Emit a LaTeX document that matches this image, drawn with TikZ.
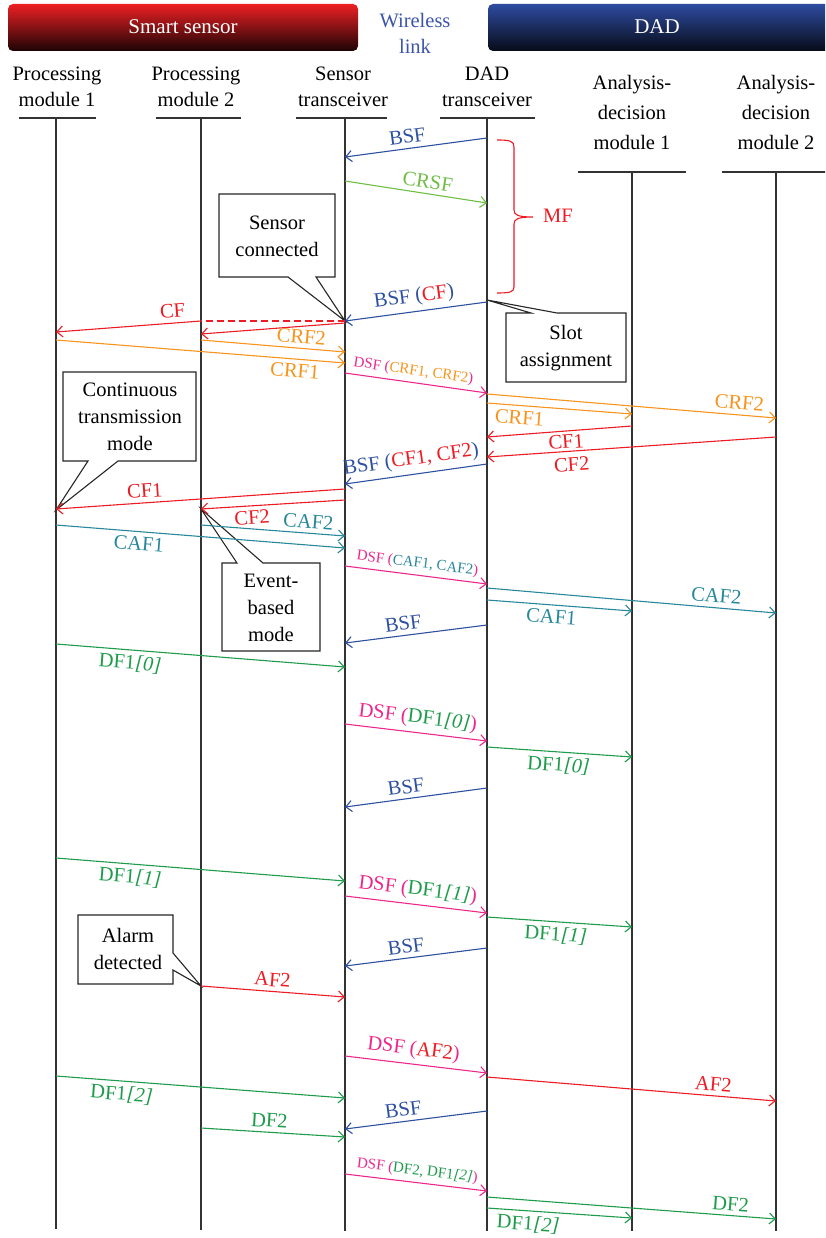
\documentclass[tikz,border=0pt]{standalone}
\usepackage{fontspec}
\setmainfont{Liberation Serif}
\usetikzlibrary{arrows.meta}

\definecolor{cblue}{RGB}{46,80,160}
\definecolor{clime}{RGB}{110,190,70}
\definecolor{cred}{RGB}{237,28,36}
\definecolor{corange}{RGB}{247,148,29}
\definecolor{cpink}{RGB}{236,40,140}
\definecolor{cteal}{RGB}{40,135,155}
\definecolor{cgreen}{RGB}{30,155,75}
\definecolor{linkblue}{RGB}{60,85,170}
\definecolor{barred}{RGB}{237,32,36}
\definecolor{barblue}{RGB}{46,75,160}

\begin{document}
\begin{tikzpicture}[x=1pt,y=-1pt,
  every node/.style={inner sep=0pt},
  head/.style={align=center,font=\fontsize{20.5}{26}\selectfont},
  headtall/.style={align=center,font=\fontsize{20.5}{30}\selectfont},
  life/.style={line width=1.2pt,draw=black!80},
  msg/.style={line width=1.1pt,-{Straight Barb[length=6pt,width=11pt,line width=1.1pt]}},
  lbl/.style={sloped,font=\fontsize{20.5}{22}\selectfont,inner sep=4.5pt},
  slbl/.style={sloped,font=\fontsize{15}{17}\selectfont,inner sep=4pt},
  callout/.style={fill=white,draw=black!85,line width=1.1pt,line join=miter},
  note/.style={align=center,font=\fontsize{20.5}{27}\selectfont},
]
\useasboundingbox (0,0) rectangle (825,1238);
\clip (0,0) rectangle (825,1238);

% ---- group bars ----
\shade[rounded corners=5pt,top color=barred,middle color=barred!88!black,bottom color=barred!12!black]
  (8,4) rectangle (358,51);
\shade[rounded corners=5pt,top color=barblue,middle color=barblue!85!black,bottom color=barblue!15!black]
  (488,4) rectangle (845,51);
\node[text=white,font=\fontsize{21}{22}\selectfont] (ss) at (183,27) {Smart sensor};
\node[text=white,font=\fontsize{21}{22}\selectfont] (dad) at (657,27) {DAD};
\node[head,text=linkblue] (wl) at (415,33) {Wireless\\link};

% ---- lifeline heads ----
\node[head] (h1) at (57,87) {Processing\\module 1};
\node[head] (h2) at (196,87) {Processing\\module 2};
\node[head] (h3) at (343,87) {Sensor\\transceiver};
\node[head] (h4) at (487,87) {DAD\\transceiver};
\node[headtall] (h5) at (632,112) {Analysis-\\decision\\module 1};
\node[headtall] (h6) at (776,112) {Analysis-\\decision\\module 2};

\coordinate (p1) at (56,118);
\coordinate (p2) at (201,118);
\coordinate (st) at (345,118);
\coordinate (dt) at (487,118);
\coordinate (a1) at (632,172);
\coordinate (a2) at (776,172);

\draw[life] (19,118) -- (96,118);
\draw[life] (156,118) -- (241,118);
\draw[life] (296,118) -- (387,118);
\draw[life] (440,118) -- (535,118);
\draw[life] (578,172) -- (686,172);
\draw[life] (722,172) -- (830,172);

\draw[life] (p1) -- (p1 |- 0,1229);
\draw[life] (p2) -- (p2 |- 0,1230);
\draw[life] (st) -- (st |- 0,1231);
\draw[life] (dt) -- (dt |- 0,1231);
\draw[life] (a1) -- (a1 |- 0,1231);
\draw[life] (a2) -- (a2 |- 0,1231);

% ---- MF brace ----
\draw[cred,line width=1.1pt] (497,140) .. controls (510,140) and (514,141) .. (514,147)
  -- (514,210) .. controls (514,215) and (518,217) .. (533,217)
  .. controls (518,217) and (514,219) .. (514,224)
  -- (514,287) .. controls (514,292) and (510,293) .. (497,293);
\node[text=cred,font=\fontsize{20.5}{22}\selectfont] (mf) at (558,216) {MF};

% ---- callouts ----
\draw[callout] (219,194) -- (335,194) -- (335,277) -- (316,277) -- (st |- 0,321) -- (288,277) -- (219,277) -- cycle;
\node[note] (sc) at (277,236) {Sensor\\connected};

\draw[callout] (506,313) -- (531,313) -- (dt |- 0,300) -- (557,313) -- (626,313) -- (626,382) -- (506,382) -- cycle;
\node[note] (sa) at (566,348) {Slot\\assignment};

\draw[callout] (63,372) -- (196,372) -- (196,461) -- (118,461) -- (p1 |- 0,510) -- (88,461) -- (63,461) -- cycle;
\node[note] (ct) at (130,417) {Continuous\\transmission\\mode};

\draw[callout] (222,563) -- (237,563) -- (p2 |- 0,509) -- (263,563) -- (320,563) -- (320,651) -- (222,651) -- cycle;
\node[note] (eb) at (271,608) {Event-\\based\\mode};

\draw[callout] (78,915) -- (173,915) -- (173,953) -- (p2 |- 0,986) -- (173,970) -- (173,984) -- (78,984) -- cycle;
\node[note] (ad) at (128,949) {Alarm\\detected};

% ---- messages: connection phase ----
\draw[msg,cblue] (dt |- 0,138) -- node[lbl,pos=.55,above]{BSF} (st |- 0,157);
\draw[msg,clime] (st |- 0,181) -- node[lbl,pos=.57,above]{CRSF} (dt |- 0,203);
\draw[msg,cblue] (dt |- 0,302) -- node[lbl,pos=.5,above]{BSF (\textcolor{cred}{CF})} (st |- 0,321);

\coordinate (cfk) at (p2 |- 0,321);
\draw[cred,line width=1.1pt,dash pattern=on 7pt off 4pt] (st |- 0,321) -- (cfk);
\draw[msg,cred] (cfk) -- node[lbl,pos=.19,above]{CF} (p1 |- 0,332);
\draw[msg,cred] (st |- 0,323) -- (p2 |- 0,334);

\draw[msg,corange] (p2 |- 0,340) -- node[lbl,pos=.69,above]{CRF2} (st |- 0,352);
\draw[msg,corange] (p1 |- 0,340) -- node[lbl,pos=.83,below]{CRF1} (st |- 0,363);
\draw[msg,cpink] (st |- 0,373) -- node[slbl,pos=.47,above]{DSF (\textcolor{corange}{CRF1, CRF2})} (dt |- 0,393);
\draw[msg,corange] (dt |- 0,394) -- node[lbl,pos=.87,above]{CRF2} (a2 |- 0,418);
\draw[msg,corange] (dt |- 0,403) -- node[lbl,pos=.23,below]{CRF1} (a1 |- 0,414);
\draw[msg,cred] (a1 |- 0,426) -- node[lbl,pos=.46,below,inner sep=3.5pt]{CF1} (dt |- 0,437);
\draw[msg,cred] (a2 |- 0,437) -- node[lbl,pos=.71,below,inner sep=6pt]{CF2} (dt |- 0,457);
\draw[msg,cblue] (dt |- 0,464) -- node[lbl,pos=.52,above]{BSF (\textcolor{cred}{CF1, CF2})} (st |- 0,484);
\draw[msg,cred] (st |- 0,489) -- node[lbl,pos=.69,above]{CF1} (p1 |- 0,509);
\draw[msg,cred] (st |- 0,500) -- node[lbl,pos=.65,below]{CF2} (p2 |- 0,509);

% ---- configuration acknowledgements ----
\draw[msg,cteal] (p2 |- 0,525) -- node[lbl,pos=.74,above]{CAF2} (st |- 0,536);
\draw[msg,cteal] (p1 |- 0,525) -- node[lbl,pos=.29,below]{CAF1} (st |- 0,548);
\draw[msg,cpink] (st |- 0,566) -- node[slbl,pos=.5,above]{DSF (\textcolor{cteal}{CAF1, CAF2})} (dt |- 0,584);
\draw[msg,cteal] (dt |- 0,588) -- node[lbl,pos=.79,above]{CAF2} (a2 |- 0,613);
\draw[msg,cteal] (dt |- 0,600) -- node[lbl,pos=.45,below]{CAF1} (a1 |- 0,611);
\draw[msg,cblue] (dt |- 0,625) -- node[lbl,pos=.58,above]{BSF} (st |- 0,643);

% ---- data phase ----
\draw[msg,cgreen] (p1 |- 0,644) -- node[lbl,pos=.26,below]{DF1\textit{[0]}} (st |- 0,667);
\draw[msg,cpink] (st |- 0,724) -- node[lbl,pos=.5,above]{DSF (\textcolor{cgreen}{DF1\textit{[0]}})} (dt |- 0,741);
\draw[msg,cgreen] (dt |- 0,747) -- node[lbl,pos=.5,below]{DF1\textit{[0]}} (a1 |- 0,757);
\draw[msg,cblue] (dt |- 0,788) -- node[lbl,pos=.56,above]{BSF} (st |- 0,807);

\draw[msg,cgreen] (p1 |- 0,858) -- node[lbl,pos=.26,below]{DF1\textit{[1]}} (st |- 0,881);
\draw[msg,cpink] (st |- 0,896) -- node[lbl,pos=.5,above]{DSF (\textcolor{cgreen}{DF1\textit{[1]}})} (dt |- 0,913);
\draw[msg,cgreen] (dt |- 0,917) -- node[lbl,pos=.48,below]{DF1\textit{[1]}} (a1 |- 0,927);
\draw[msg,cblue] (dt |- 0,948) -- node[lbl,pos=.56,above]{BSF} (st |- 0,966);

% ---- alarm ----
\draw[msg,cred] (p2 |- 0,986) -- node[lbl,pos=.49,above]{AF2} (st |- 0,997);
\draw[msg,cpink] (st |- 0,1056) -- node[lbl,pos=.47,above]{DSF (\textcolor{cred}{AF2})} (dt |- 0,1073);
\draw[msg,cred] (dt |- 0,1077) -- node[lbl,pos=.78,above]{AF2} (a2 |- 0,1101);
\draw[msg,cgreen] (p1 |- 0,1076) -- node[lbl,pos=.23,below]{DF1\textit{[2]}} (st |- 0,1098);
\draw[msg,cblue] (dt |- 0,1111) -- node[lbl,pos=.58,above]{BSF} (st |- 0,1129);
\draw[msg,cgreen] (p2 |- 0,1128) -- node[lbl,pos=.47,above]{DF2} (st |- 0,1137);
\draw[msg,cpink] (st |- 0,1174) -- node[slbl,pos=.5,above]{DSF (\textcolor{cgreen}{DF2, DF1\textit{[2]}})} (dt |- 0,1191);
\draw[msg,cgreen] (dt |- 0,1197) -- node[lbl,pos=.84,above]{DF2} (a2 |- 0,1219);
\draw[msg,cgreen] (dt |- 0,1208) -- node[lbl,pos=.29,below]{DF1\textit{[2]}} (a1 |- 0,1218);
\end{tikzpicture}
\end{document}
